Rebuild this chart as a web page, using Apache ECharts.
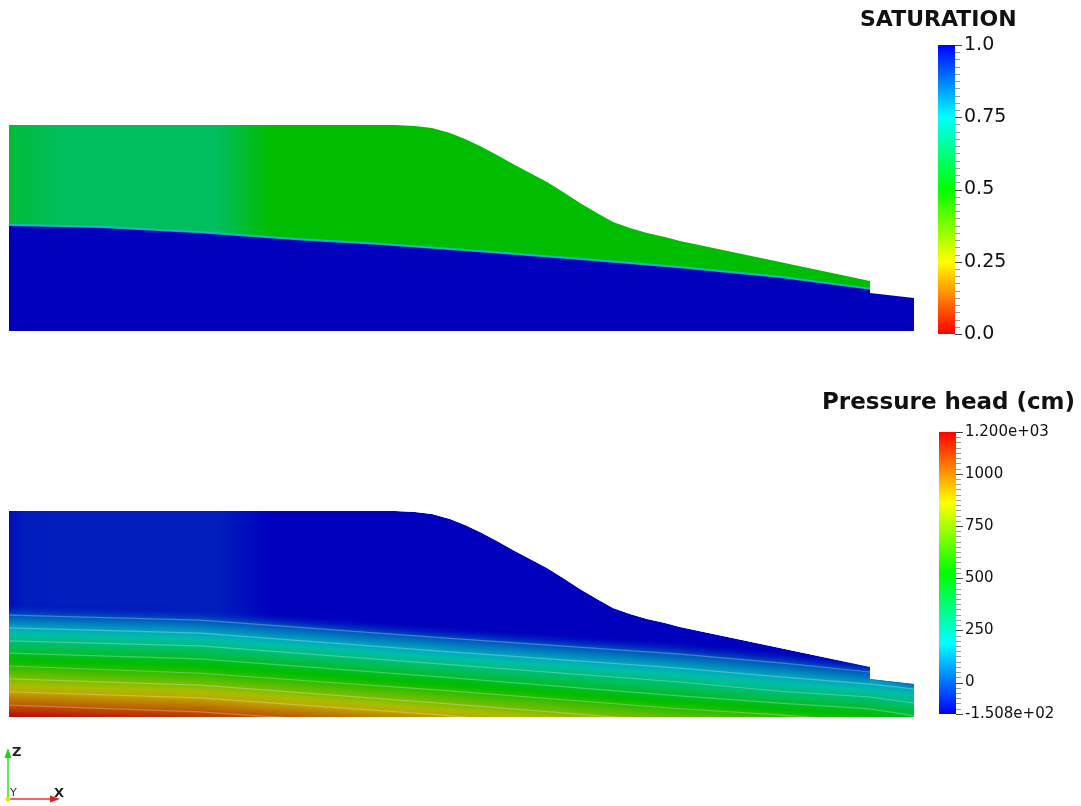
<!DOCTYPE html>
<html>
<head>
<meta charset="utf-8">
<title>Saturation and pressure head</title>
<script src="https://cdn.jsdelivr.net/npm/echarts@6/dist/echarts.min.js"></script>
<style>
  html, body { margin: 0; padding: 0; background: #fff; }
  #chart { width: 1081px; height: 806px; }
</style>
</head>
<body>
<div id="chart"></div>
<script>
// domain outline: distance along the slope and elevation (ground surface, with the step near the toe)
const surfaceX = [0, 42.65, 44.86, 46.74, 48.73, 50.39, 52.04, 53.92, 55.69, 57.57, 59.45, 61.22,
  63.09, 64.97, 66.74, 68.62, 70.5, 72.49, 74.14, 85.19, 95.14, 95.14, 100];
const surfaceZ = [20, 20, 19.9, 19.71, 19.22, 18.64, 17.96, 17.09, 16.21, 15.34, 14.47, 13.5,
  12.43, 11.46, 10.58, 10.0, 9.51, 9.13, 8.74, 6.7, 4.85, 3.7, 3.2];
const stepIndex = 20;

// saturation front (water table)
const waterX = [0, 10.1, 21.1, 32.2, 41.0, 52.0, 63.1, 74.1, 85.2, 95.14];
const waterZ = [10.3, 10.1, 9.6, 8.9, 8.45, 7.75, 7.0, 6.2, 5.25, 4.1];

// saturation of the unsaturated zone, left to right
const satX = [0, 1.5, 5.5, 23, 29, 95.14];
const satValue = [0.57, 0.59, 0.625, 0.625, 0.5, 0.5];
const satFull = 1.0;

// pressure head in the dry zone, left to right (cm)
const headTopX = [0, 1.5, 5.5, 23, 29, 100];
const headTopValue = [-130, -100, -95, -95, -150.8, -150.8];

// pressure head isolines: level (cm) and its elevation at each station
const stationX = [0, 21.1, 47.6, 74.1, 85.2, 95.14, 100];
const headLevels = [-150, 0, 150, 300, 450, 600, 750, 900, 1050, 1200];
const headLevelZ = [
  [11.2, 10.7, 8.9, 7.4, 6.5, 5.53, 4.8],
  [9.9, 9.4, 7.7, 6.1, 5.25, 4.37, 3.5],
  [8.65, 8.15, 6.4, 4.75, 3.9, 3.2, 2.72],
  [7.4, 6.9, 5.15, 3.4, 2.5, 1.94, 1.36],
  [6.2, 5.65, 3.9, 2.05, 1.35, 0.78, 0.1],
  [4.95, 4.25, 2.6, 0.8, 0.2, -0.49, -1.17],
  [3.7, 3.1, 1.35, -0.5, -1.05, -1.75, -2.43],
  [2.45, 1.85, 0.2, -1.75, -2.35, -3.0, -3.69],
  [1.15, 0.5, -1.05, -3.0, -3.6, -4.27, -4.95],
  [-0.1, -0.8, -2.35, -4.25, -4.85, -5.53, -6.21]
];

// colour bar ticks
const satMin = 0, satMax = 1;
const satTicks = [0, 0.25, 0.5, 0.75, 1];
const satTickLabels = ['0.0', '0.25', '0.5', '0.75', '1.0'];
const headMin = -150.8, headMax = 1200;
const headTicks = [-150.8, 0, 250, 500, 750, 1000, 1200];
const headTickLabels = ['-1.508e+02', '0', '250', '500', '750', '1000', '1.200e+03'];

const satMinor = [];
for (let v = 0; v <= 1.0001; v += 0.025) satMinor.push(+v.toFixed(3));
const headMinor = [];
for (let v = -150; v <= 1200; v += 25) headMinor.push(v);

const SHADE = 0.74;

// blue-to-red HSV rainbow, t = 1 blue ... t = 0 red
function rainbow(t) {
  t = Math.max(0, Math.min(1, t));
  const h = t * 4;
  const i = Math.min(3, Math.floor(h));
  const f = h - i;
  if (i === 0) return [1, f, 0];
  if (i === 1) return [1 - f, 1, 0];
  if (i === 2) return [0, 1, f];
  return [0, 1 - f, 1];
}
function rgba(c, k, a) {
  return 'rgba(' + Math.round(c[0] * 255 * k) + ',' + Math.round(c[1] * 255 * k) + ',' +
    Math.round(c[2] * 255 * k) + ',' + a + ')';
}
const satT = (s) => (s - satMin) / (satMax - satMin);
const headT = (p) => 1 - (p - headMin) / (headMax - headMin);

const pairs = (xs, zs) => xs.map((x, i) => [x, zs[i]]);

function domainOutline() {
  return [[0, 0]].concat(pairs(surfaceX, surfaceZ), [[100, 0]]);
}

function hGradient(api, xs, colors) {
  const a = api.coord([xs[0], 0])[0];
  const b = api.coord([xs[xs.length - 1], 0])[0];
  return new echarts.graphic.LinearGradient(a, 0, b, 0,
    xs.map((x, i) => ({ offset: (api.coord([x, 0])[0] - a) / (b - a), color: colors[i] })), true);
}

function renderSaturation(params, api) {
  const wet = pairs(waterX, waterZ)
    .concat(pairs(surfaceX.slice(stepIndex + 1), surfaceZ.slice(stepIndex + 1)), [[100, 0], [0, 0]]);
  const dry = pairs(surfaceX.slice(0, stepIndex + 1), surfaceZ.slice(0, stepIndex + 1))
    .concat(pairs(waterX, waterZ).reverse());
  const front = pairs(waterX, waterZ);
  return {
    type: 'group',
    children: [
      {
        type: 'polygon',
        shape: { points: wet.map((p) => api.coord(p)) },
        style: { fill: rgba(rainbow(satT(satFull)), SHADE, 1) }
      },
      {
        type: 'polygon',
        shape: { points: dry.map((p) => api.coord(p)) },
        style: { fill: hGradient(api, satX, satValue.map((s) => rgba(rainbow(satT(s)), SHADE, 1))) }
      },
      {
        type: 'polyline',
        shape: { points: front.map((p) => api.coord(p)) },
        style: { stroke: 'rgba(20,190,200,0.9)', lineWidth: 2.2, fill: null }
      }
    ]
  };
}

function bandQuad(api, i, j) {
  const A0 = api.coord([stationX[j], headLevelZ[i][j]]);
  const A1 = api.coord([stationX[j + 1], headLevelZ[i][j + 1]]);
  const B1 = api.coord([stationX[j + 1], headLevelZ[i + 1][j + 1]]);
  const B0 = api.coord([stationX[j], headLevelZ[i + 1][j]]);
  const dx = A1[0] - A0[0], dy = A1[1] - A0[1];
  const len = Math.hypot(dx, dy);
  const nx = -dy / len, ny = dx / len;
  const am = [(A0[0] + A1[0]) / 2, (A0[1] + A1[1]) / 2];
  const bm = [(B0[0] + B1[0]) / 2, (B0[1] + B1[1]) / 2];
  const d = (bm[0] - am[0]) * nx + (bm[1] - am[1]) * ny;
  const lo = headLevels[i], hi = headLevels[i + 1], mid = (lo + hi) / 2;
  const first = i === 0;
  const grad = new echarts.graphic.LinearGradient(am[0], am[1], am[0] + nx * d, am[1] + ny * d, [
    { offset: 0, color: rgba(rainbow(headT(lo)), SHADE, first ? 0 : 1) },
    { offset: 0.5, color: rgba(rainbow(headT(mid)), SHADE, first ? 0.55 : 1) },
    { offset: 1, color: rgba(rainbow(headT(hi)), SHADE, 1) }
  ], true);
  return {
    type: 'polygon',
    shape: { points: [A0, A1, B1, B0] },
    style: { fill: grad, stroke: grad, lineWidth: first ? 0.5 : 0.9 }
  };
}

function renderHead(params, api) {
  const outline = domainOutline().map((p) => api.coord(p));
  const children = [{
    type: 'polygon',
    shape: { points: outline },
    style: { fill: hGradient(api, headTopX, headTopValue.map((p) => rgba(rainbow(headT(p)), SHADE, 1))) }
  }];
  for (let i = 0; i < headLevels.length - 1; i++) {
    for (let j = 0; j < stationX.length - 1; j++) children.push(bandQuad(api, i, j));
  }
  for (let i = 1; i < headLevels.length - 1; i++) {
    children.push({
      type: 'polyline',
      shape: { points: pairs(stationX, headLevelZ[i]).map((p) => api.coord(p)) },
      style: { stroke: 'rgba(255,255,255,0.26)', lineWidth: 1.2, fill: null }
    });
  }
  return {
    type: 'group',
    clipPath: { type: 'polygon', shape: { points: outline } },
    children: children
  };
}

function colorBar(stops) {
  return function (params, api) {
    const p0 = api.coord([0, api.value(2)]);
    const p1 = api.coord([1, api.value(3)]);
    return {
      type: 'rect',
      shape: { x: p0[0], y: p0[1], width: p1[0] - p0[0], height: p1[1] - p0[1] },
      style: { fill: new echarts.graphic.LinearGradient(0, 0, 0, 1, stops) }
    };
  };
}
// tick marks on the right edge of a colour bar
function barTicks(length, color) {
  return function (params, api) {
    const p = api.coord([1, api.value(1)]);
    return {
      type: 'line',
      shape: { x1: p[0], y1: Math.round(p[1]) + 0.5, x2: p[0] + length, y2: Math.round(p[1]) + 0.5 },
      style: { stroke: color, lineWidth: 1 }
    };
  };
}
const barStopsSat = [0, 0.25, 0.5, 0.75, 1].map((o) => ({ offset: o, color: rgba(rainbow(1 - o), 1, 1) }));
const barStopsHead = [0, 0.25, 0.5, 0.75, 1].map((o) => ({ offset: o, color: rgba(rainbow(o), 1, 1) }));

const labelFont = { fontFamily: 'DejaVu Sans', color: '#111' };

function labelAxis(grid, min, max, ticks, labels, size) {
  return {
    type: 'value', gridIndex: grid, min: min, max: max, position: 'right',
    axisLine: { show: false }, splitLine: { show: false }, axisTick: { show: false },
    axisLabel: {
      show: true, customValues: ticks, margin: 9, fontSize: size, ...labelFont,
      formatter: (v) => {
        let best = 0;
        ticks.forEach((t, k) => { if (Math.abs(t - v) < Math.abs(ticks[best] - v)) best = k; });
        return labels[best];
      }
    }
  };
}

const chart = echarts.init(document.getElementById('chart'), null, { renderer: 'canvas' });
chart.setOption({
  animation: false,
  backgroundColor: '#fff',
  grid: [
    { left: 9, top: 125, width: 905, height: 206 },
    { left: 9, top: 511, width: 905, height: 206 },
    { left: 938, top: 45, width: 17, height: 289 },
    { left: 939, top: 432, width: 17, height: 282 }
  ],
  xAxis: [
    { type: 'value', gridIndex: 0, min: 0, max: 100, show: false },
    { type: 'value', gridIndex: 1, min: 0, max: 100, show: false },
    { type: 'value', gridIndex: 2, min: 0, max: 1, show: false },
    { type: 'value', gridIndex: 3, min: 0, max: 1, show: false }
  ],
  yAxis: [
    { type: 'value', gridIndex: 0, min: 0, max: 20, show: false },
    { type: 'value', gridIndex: 1, min: 0, max: 20, show: false },
    labelAxis(2, satMin, satMax, satTicks, satTickLabels, 19),
    labelAxis(3, headMin, headMax, headTicks, headTickLabels, 15)
  ],
  series: [
    {
      type: 'custom', name: 'SATURATION', xAxisIndex: 0, yAxisIndex: 0,
      data: [[0, 0]], renderItem: renderSaturation, silent: true
    },
    {
      type: 'custom', name: 'Pressure head (cm)', xAxisIndex: 1, yAxisIndex: 1,
      data: [[0, 0]], renderItem: renderHead, silent: true
    },
    {
      type: 'custom', xAxisIndex: 2, yAxisIndex: 2,
      data: [[0, 0, satMax, satMin]], renderItem: colorBar(barStopsSat), silent: true
    },
    {
      type: 'custom', xAxisIndex: 2, yAxisIndex: 2, silent: true,
      data: satMinor.map((v) => [1, v]), renderItem: barTicks(5, '#9a9a9a')
    },
    {
      type: 'custom', xAxisIndex: 2, yAxisIndex: 2, silent: true,
      data: satTicks.map((v) => [1, v]), renderItem: barTicks(7, '#444')
    },
    {
      type: 'custom', xAxisIndex: 3, yAxisIndex: 3,
      data: [[0, 0, headMax, headMin]], renderItem: colorBar(barStopsHead), silent: true
    },
    {
      type: 'custom', xAxisIndex: 3, yAxisIndex: 3, silent: true,
      data: headMinor.map((v) => [1, v]), renderItem: barTicks(5, '#9a9a9a')
    },
    {
      type: 'custom', xAxisIndex: 3, yAxisIndex: 3, silent: true,
      data: headTicks.map((v) => [1, v]), renderItem: barTicks(7, '#444')
    }
  ],
  graphic: [
    { type: 'text', x: 860, y: 20, style: { text: 'SATURATION', font: 'bold 22px "DejaVu Sans"', fill: '#111', verticalAlign: 'middle' } },
    { type: 'text', x: 822, y: 403, style: { text: 'Pressure head (cm)', font: 'bold 23px "DejaVu Sans"', fill: '#111', verticalAlign: 'middle' } },
    // orientation triad
    { type: 'line', shape: { x1: 8, y1: 799, x2: 8, y2: 756 }, style: { stroke: '#33dd33', lineWidth: 1.5 } },
    { type: 'polygon', shape: { points: [[4.5, 758], [11.5, 758], [8, 748]] }, style: { fill: '#22cc22' } },
    { type: 'text', x: 12, y: 753, style: { text: 'Z', font: 'bold 13px "DejaVu Sans"', fill: '#222', verticalAlign: 'middle' } },
    { type: 'line', shape: { x1: 8, y1: 799, x2: 52, y2: 799 }, style: { stroke: '#ee3333', lineWidth: 1.5 } },
    { type: 'polygon', shape: { points: [[50, 795.5], [50, 802.5], [60, 799]] }, style: { fill: '#dd2222' } },
    { type: 'text', x: 54, y: 794, style: { text: 'X', font: 'bold 13px "DejaVu Sans"', fill: '#222', verticalAlign: 'middle' } },
    { type: 'text', x: 10, y: 793, style: { text: 'Y', font: '11px "DejaVu Sans"', fill: '#333', verticalAlign: 'middle' } },
    { type: 'circle', shape: { cx: 8, cy: 799, r: 2.5 }, style: { fill: '#eedd00' } }
  ]
});
</script>
</body>
</html>
